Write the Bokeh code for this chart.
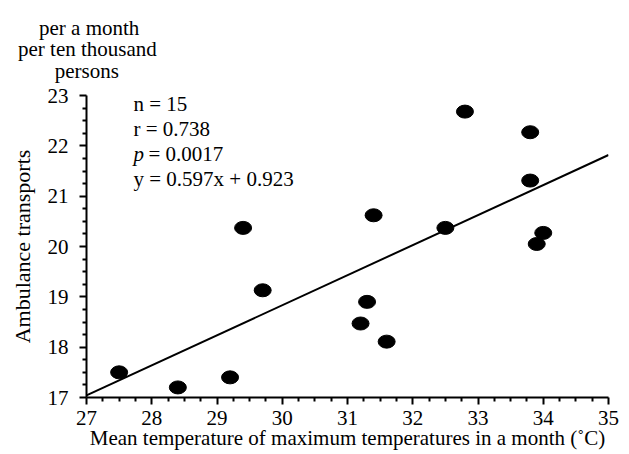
import numpy as np
from bokeh.plotting import figure
from bokeh.models import Label, Range1d, FixedTicker, Title
from bokeh.embed import file_html
from bokeh.resources import INLINE

# Data
temp_max = [27.5, 28.4, 29.2, 29.4, 29.7, 31.2, 31.3, 31.4, 31.6, 32.5, 32.8, 33.8, 33.8, 33.9, 34.0]
transports = [17.5, 17.2, 17.4, 20.37, 19.13, 18.47, 18.9, 20.62, 18.11, 20.37, 22.68, 22.27, 21.31, 20.05, 20.27]
slope = 0.597
intercept = 0.923
x_ticks = [27, 28, 29, 30, 31, 32, 33, 34, 35]
y_ticks = [17, 18, 19, 20, 21, 22, 23]
stats_lines = ["n = 15", "r = 0.738", None, "y = 0.597x + 0.923"]
p_value_text = "= 0.0017"
unit_lines = ["per a month", "per ten thousand", "persons"]

FONT = "Liberation Serif"
NBSP = "\u00a0"

p = figure(width=629, height=454, output_backend="svg", toolbar_location=None,
           x_range=Range1d(27, 35), y_range=Range1d(17, 23),
           min_border_left=86, min_border_right=21, min_border_top=95, min_border_bottom=57,
           x_axis_label="Mean temperature of maximum temperatures in a month (\u02daC)",
           y_axis_label="Ambulance transports")
p.outline_line_color = None
p.grid.visible = False
p.background_fill_color = "white"

for ax, ticks in ((p.xaxis[0], x_ticks), (p.yaxis[0], y_ticks)):
    minors = []
    for a, b in zip(ticks[:-1], ticks[1:]):
        minors += [a + (b - a) * k / 4 for k in (1, 2, 3)]
    ax.ticker = FixedTicker(ticks=ticks, minor_ticks=minors)
    ax.axis_line_width = 2
    ax.axis_line_color = "black"
    ax.major_tick_line_width = 2
    ax.minor_tick_line_width = 2
    ax.major_tick_out = 7
    ax.major_tick_in = 0
    ax.minor_tick_out = 4
    ax.minor_tick_in = 0
    ax.major_label_text_font = FONT
    ax.major_label_text_font_size = "21px"
    ax.major_label_text_color = "black"
    ax.axis_label_text_font = FONT
    ax.axis_label_text_font_style = "normal"
    ax.axis_label_text_color = "black"

p.xaxis.axis_label_text_font_size = "21px"
p.yaxis.axis_label_text_font_size = "22px"
p.xaxis.major_label_standoff = 6
p.xaxis.axis_label_standoff = -2
p.yaxis.major_label_standoff = 11
p.yaxis.axis_label_standoff = 10

# Regression line
xs = np.array([x_ticks[0], x_ticks[-1]], dtype=float)
p.line(xs, slope * xs + intercept, line_color="black", line_width=2)

# Points
p.ellipse(x=temp_max, y=transports, width=17, height=13, width_units="screen",
          height_units="screen", fill_color="black", line_color="black")

# Statistics text
y0 = 22.84
for i, t in enumerate(stats_lines):
    yy = y0 - i * 0.497
    if t is None:
        p.add_layout(Label(x=27.72, y=yy, text="p", text_font=FONT, text_font_style="italic",
                           text_font_size="21px", text_baseline="middle", text_color="black"))
        p.add_layout(Label(x=27.72, y=yy, x_offset=15, text=p_value_text, text_font=FONT,
                           text_font_size="21px", text_baseline="middle", text_color="black"))
    else:
        p.add_layout(Label(x=27.72, y=yy, text=t, text_font=FONT, text_font_size="21px",
                           text_baseline="middle", text_color="black"))

# Units text above the y axis: one multi-line title; shorter lines are indented
# with no-break spaces so that each line is centred over the y axis
unit_indents = [4, 0, 7]
unit_text = "\n".join(NBSP * n + t for n, t in zip(unit_indents, unit_lines))
p.add_layout(Title(text=unit_text, align="left", offset=-68.5, text_font=FONT,
                   text_font_size="21px", text_font_style="normal", text_color="black",
                   standoff=25, text_line_height=0.9), "above")

open("out.html", "w").write(file_html(p, INLINE))
